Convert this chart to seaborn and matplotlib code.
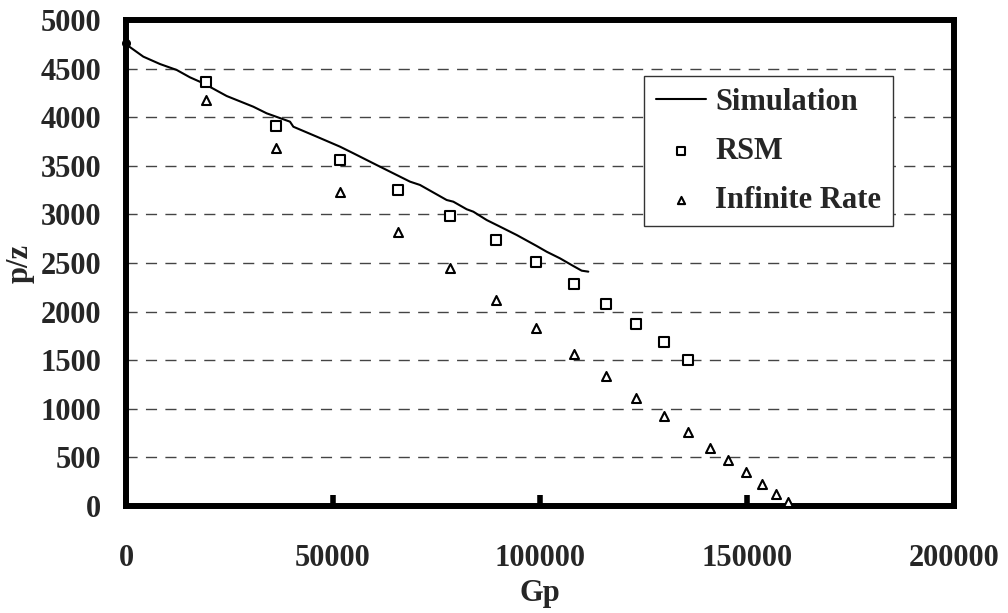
import matplotlib
matplotlib.use("Agg")
import matplotlib.pyplot as plt
import seaborn as sns
import pandas as pd
import numpy as np

# ---- data ----
sim_gp = [0, 560, 4180, 8210, 12240, 15460, 18680, 24320, 30750, 33980, 39610, 40420,
          46060, 51690, 54910, 60550, 68600, 71010, 77460, 79060, 82290, 83900,
          87120, 90340, 94370, 99200, 101610, 104830, 108050, 110070, 111670]
sim_pz = [4760, 4733, 4623, 4547, 4486, 4410, 4349, 4218, 4108, 4040, 3954, 3902,
          3800, 3697, 3629, 3508, 3337, 3303, 3148, 3131, 3053, 3028,
          2942, 2874, 2788, 2675, 2616, 2548, 2469, 2421, 2411]

rsm_gp = [19300, 36200, 51700, 65700, 78300, 89400, 99000, 108200, 115900, 123200, 130000, 135700]
rsm_pz = [4365, 3913, 3560, 3254, 2984, 2737, 2513, 2287, 2081, 1876, 1690, 1505]

inf_gp = [19300, 36200, 51700, 65700, 78300, 89400, 99000, 108200, 115900, 123200,
          130000, 135700, 141000, 145400, 149800, 153600, 157000, 159900]
inf_pz = [4177, 3683, 3227, 2816, 2452, 2119, 1828, 1561, 1335, 1111,
          923, 758, 593, 473, 346, 223, 120, 44]

x_ticks = [0, 50000, 100000, 150000, 200000]
y_ticks = [0, 500, 1000, 1500, 2000, 2500, 3000, 3500, 4000, 4500, 5000]

sim_df = pd.DataFrame({"Gp": sim_gp, "p/z": sim_pz})
rsm_df = pd.DataFrame({"Gp": rsm_gp, "p/z": rsm_pz})
inf_df = pd.DataFrame({"Gp": inf_gp, "p/z": inf_pz})

# ---- style ----
sns.set_style("white")
plt.rcParams["font.family"] = ["Liberation Serif", "DejaVu Serif"]
plt.rcParams["font.weight"] = "bold"
FS = 22

fig = plt.figure(figsize=(10.08, 6.13), dpi=100)
ax = fig.add_axes([126/1008, 1-506/613, (954-126)/1008, (506-20)/613])

sns.lineplot(data=sim_df, x="Gp", y="p/z", ax=ax, color="black", linewidth=1.5,
             label="Simulation", sort=False, estimator=None)
sns.scatterplot(data=rsm_df, x="Gp", y="p/z", ax=ax, marker="s", s=42,
                facecolor="white", edgecolor="black", linewidth=1.5, label="RSM", zorder=4)
sns.scatterplot(data=inf_df, x="Gp", y="p/z", ax=ax, marker="^", s=42,
                facecolor="white", edgecolor="black", linewidth=1.5, label="Infinite Rate", zorder=4)
# small mark where the simulation starts on the axis
ax.scatter([sim_gp[0]], [sim_pz[0]], marker="o", s=30, color="black", clip_on=False, zorder=6)

ax.set_xlim(x_ticks[0], x_ticks[-1])
ax.set_ylim(y_ticks[0], y_ticks[-1])
ax.set_xticks(x_ticks)
ax.set_yticks(y_ticks)
ax.set_xticklabels([str(v) for v in x_ticks], fontsize=FS, fontweight="bold")
ax.set_yticklabels([str(v) for v in y_ticks], fontsize=FS, fontweight="bold")

ax.tick_params(axis="x", bottom=True, direction="in", length=8, width=4, pad=27, color="black")
ax.tick_params(axis="y", left=False, length=0, pad=18)

# gridlines
for v in y_ticks[1:-1]:
    ax.axhline(v, color="#444444", linewidth=1.0, linestyle=(0, (8, 6)), zorder=1)

for sp in ax.spines.values():
    sp.set_visible(True)
    sp.set_color("black")
    sp.set_linewidth(4.3)

ax.set_xlabel("Gp", fontsize=FS, fontweight="bold", labelpad=5)
ax.set_ylabel("p/z", fontsize=FS, fontweight="bold", labelpad=4)

leg = ax.legend(loc="upper right", bbox_to_anchor=(0.926, 0.885), fontsize=FS,
                frameon=True, fancybox=False, edgecolor="#333333", framealpha=1,
                handlelength=1.65, handletextpad=0.3, labelspacing=0.66,
                borderpad=0.38, borderaxespad=0, markerscale=0.8)
leg.get_frame().set_linewidth(1.0)
for t in leg.get_texts():
    t.set_fontweight("bold")

fig.savefig("out.png", dpi=100, facecolor="white")
